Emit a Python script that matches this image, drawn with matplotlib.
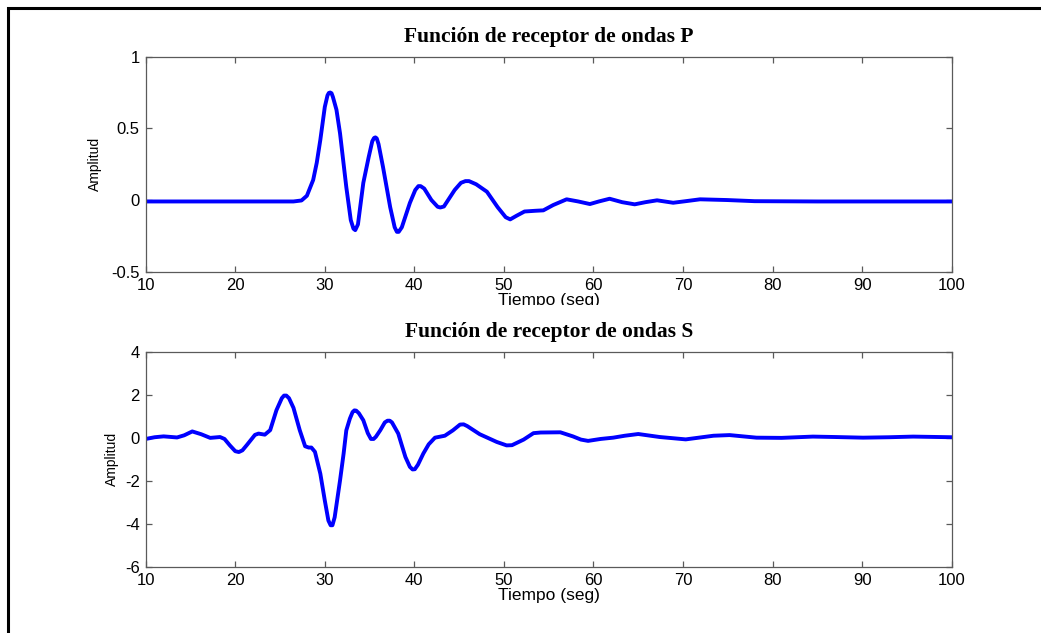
import numpy as np
import matplotlib
matplotlib.use("Agg")
import matplotlib.pyplot as plt
from matplotlib.patches import Rectangle
from matplotlib.transforms import Bbox, TransformedBbox

#%% Data
# P wave receiver function
p_time = [10, 20, 26.5, 27.4, 28.0, 28.7, 29.1, 29.5, 30.0, 30.3, 30.45, 30.6, 30.75, 30.9, 31.3,
          31.7, 32.4, 32.9, 33.2, 33.4, 33.7, 34.3, 34.9, 35.3, 35.5, 35.65, 35.8, 36.0, 36.5,
          37.3, 37.8, 38.05, 38.25, 38.6, 39.5, 40.1, 40.45, 40.7, 41.1, 41.9, 42.6, 42.9, 43.3, 44.5,
          45.2, 45.7, 46.1, 46.9, 48.1, 49.3, 50.2, 50.7, 51.4, 52.3, 53.5, 54.4, 55.5,
          57.0, 58.3, 59.6, 60.6, 61.8, 63.2, 64.6, 65.8, 67.1, 68.9, 70.3, 71.9,
          74.9, 78, 85, 100]
p_amp = [-0.01, -0.01, -0.01, -0.003, 0.03, 0.14, 0.26, 0.42, 0.65, 0.73, 0.747, 0.75, 0.745, 0.72, 0.63,
         0.465, 0.09, -0.14, -0.2, -0.21, -0.17, 0.12, 0.30, 0.41, 0.433, 0.437, 0.43, 0.39, 0.23,
         -0.05, -0.19, -0.222, -0.222, -0.19, -0.02, 0.07, 0.097, 0.097, 0.08, 0.0, -0.047, -0.052, -0.045, 0.07,
         0.12, 0.132, 0.132, 0.11, 0.058, -0.05, -0.12, -0.135, -0.11, -0.08, -0.075, -0.072, -0.035,
         0.005, -0.01, -0.028, -0.01, 0.009, -0.015, -0.03, -0.015, -0.002, -0.019, -0.008, 0.005,
         0.0, -0.008, -0.01, -0.01]

# S wave receiver function
s_time = [10.0, 11.0, 12.0, 13.5, 14.3, 15.2, 16.2, 17.2, 18.3, 18.8, 19.4, 20.0, 20.4, 20.8,
          21.3, 22.2, 22.6, 23.3, 23.9, 24.6, 25.2, 25.45, 25.7, 26.0, 26.5, 27.2, 27.8, 28.2,
          28.5, 28.9, 29.5, 30.0, 30.4, 30.65, 30.85, 31.1, 31.7, 32.1, 32.4, 32.8, 33.1, 33.3, 33.5,
          33.8, 34.3, 34.8, 35.15, 35.45, 35.7, 36.2, 36.7, 37.0, 37.25, 37.5, 38.2, 38.6, 39.0, 39.5,
          39.8, 40.05, 40.4, 41.0, 41.6, 42.3, 43.4, 44.3, 45.1, 45.5, 45.9, 47.3, 48.2, 49.2, 50.3,
          50.9, 52.2, 53.3, 54.1, 56.3, 57.7, 58.6, 59.4, 60.8, 62.2, 63.5, 65.0, 67.4,
          70.3, 73.4, 75.2, 78.2, 81, 84.5, 87, 90.1, 93, 95.7, 100]
s_amp = [-0.05, 0.03, 0.07, 0.02, 0.12, 0.30, 0.17, 0.0, 0.04, -0.05, -0.35, -0.62, -0.66, -0.58,
         -0.33, 0.14, 0.2, 0.15, 0.36, 1.29, 1.85, 1.97, 1.97, 1.85, 1.40, 0.36, -0.39, -0.45,
         -0.45, -0.65, -1.67, -2.92, -3.85, -4.07, -4.07, -3.7, -1.98, -0.73, 0.35, 0.9, 1.2, 1.28, 1.27,
         1.15, 0.82, 0.22, -0.05, -0.05, 0.05, 0.36, 0.72, 0.80, 0.80, 0.72, 0.2, -0.35, -0.89, -1.35,
         -1.47, -1.46, -1.25, -0.73, -0.3, 0.01, 0.10, 0.35, 0.62, 0.63, 0.55, 0.17, 0.0, -0.19, -0.35,
         -0.34, -0.08, 0.22, 0.25, 0.26, 0.07, -0.08, -0.14, -0.05, 0.01, 0.1, 0.18, 0.04,
         -0.07, 0.1, 0.13, 0.01, 0.0, 0.06, 0.04, 0.01, 0.03, 0.06, 0.03]

x_ticks = [10, 20, 30, 40, 50, 60, 70, 80, 90, 100]
p_yticks = [-0.5, 0, 0.5, 1]
p_ylabels = ["-0.5", "0", "0.5", "1"]
s_yticks = [-6, -4, -2, 0, 2, 4]
titles = ["Función de receptor de ondas P", "Función de receptor de ondas S"]
x_label = "Tiempo (seg)"
y_label = "Amplitud"

#%% Figure
W, H = 1041, 633
fig = plt.figure(figsize=(W / 100, H / 100), dpi=100)
fig.patch.set_facecolor('white')

def px_axes(left, top, right, bottom):
    return [left / W, 1 - bottom / H, (right - left) / W, (bottom - top) / H]

ax1 = fig.add_axes(px_axes(145.7, 56.7, 951.7, 271.7))
ax2 = fig.add_axes(px_axes(145.7, 352, 951.7, 566.7))

def style_axes(ax, yticks, ylabels, title, ylabpad):
    ax.set_xlim(10, 100)
    ax.set_xticks(x_ticks)
    ax.set_xticklabels([str(t) for t in x_ticks])
    ax.set_yticks(yticks)
    ax.set_yticklabels(ylabels)
    for s in ax.spines.values():
        s.set_color('#5a5a5a')
        s.set_linewidth(0.9)
    ax.tick_params(direction='in', length=4, width=0.9, color='#5a5a5a',
                   top=True, right=True, labelsize=12, pad=4.2)
    for lab in ax.get_xticklabels() + ax.get_yticklabels():
        lab.set_family('Liberation Sans')
    ax.set_title(title, fontsize=15.5, fontweight='bold', family='Liberation Serif', pad=10.5)
    ax.set_ylabel(y_label, fontsize=10, family='Liberation Sans', labelpad=ylabpad)

ax1.plot(p_time, p_amp, color='#0000ff', lw=2.8, solid_joinstyle='round')
ax1.set_ylim(-0.5, 1)
style_axes(ax1, p_yticks, p_ylabels, titles[0], 6.5)

ax2.plot(s_time, s_amp, color='#0000ff', lw=2.8, solid_joinstyle='round')
ax2.set_ylim(-6, 4)
style_axes(ax2, s_yticks, [str(v) for v in s_yticks], titles[1], 4.5)

# x labels, the upper one gets cut off like in the original
xl1 = ax1.set_xlabel(x_label, fontsize=12.5, family='Liberation Sans', labelpad=0)
xl1.set_clip_box(TransformedBbox(Bbox([[0, 1 - 305 / H], [1, 1]]), fig.transFigure))
xl1.set_clip_on(True)
ax2.set_xlabel(x_label, fontsize=12.5, family='Liberation Sans', labelpad=0)

# black frame around the picture (right and bottom edges outside the image)
fig.add_artist(Rectangle((8 / W, -0.05), 1.1, 1.05 - 8 / H, transform=fig.transFigure,
                         fill=False, edgecolor='black', lw=2.2, clip_on=False))

fig.savefig('out.png', dpi=100)
